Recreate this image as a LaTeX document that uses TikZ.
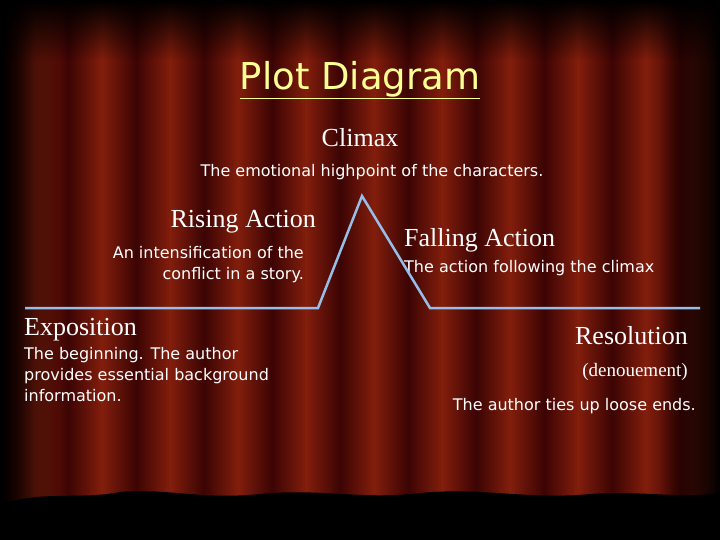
\documentclass[tikz,border=0pt]{standalone}
\usepackage{fontspec}
\setmainfont{Liberation Serif}
\newfontfamily\comic{DejaVu Sans}
\usetikzlibrary{fadings}
\definecolor{cdark}{RGB}{60,4,4}
\definecolor{cred}{RGB}{130,30,12}
\definecolor{lineblue}{RGB}{150,190,235}
\definecolor{titley}{RGB}{255,255,150}
\tikzset{
 comictxt/.style={text=white,font=\comic\fontsize{16}{21}\selectfont,inner sep=0pt},
 sertxt/.style={text=white,font=\fontsize{26}{30}\selectfont,inner sep=0pt},
 plotline/.style={lineblue,line width=2.5pt,line join=miter}
}
\begin{document}
\begin{tikzpicture}[x=1pt,y=-1pt]
\useasboundingbox (0,0) rectangle (720,540);
\fill[cdark] (0,0) rectangle (720,540);
\foreach \i in {0,...,10}{
  \shade[left color=cdark,right color=cdark,middle color=cred] (\i*68,0) rectangle (\i*68+68,540);
}
\fill[black,path fading=east] (0,0) rectangle (60,540);
\fill[black,path fading=west] (660,0) rectangle (720,540);
\fill[black,path fading=south] (0,0) rectangle (720,60);
\fill[black] (0,540) -- (0,505) .. controls (40,490) and (80,500) .. (120,492)
  .. controls (170,488) and (200,500) .. (260,494) .. controls (320,488) and (360,500) .. (420,493)
  .. controls (480,487) and (530,500) .. (590,494) .. controls (640,490) and (690,500) .. (720,492) -- (720,540) -- cycle;
\node[inner sep=0pt,text=titley,font=\comic\fontsize{37}{42}\selectfont] (title) at (360,80) {\underline{Plot Diagram}};
\node[sertxt] (climax) at (360,138) {Climax};
\node[comictxt] (climaxd) at (372,172) {The emotional highpoint of the characters.};
\node[sertxt,anchor=east] (rising) at (316,222) {Rising Action};
\node[comictxt,anchor=north east,align=right] (risingd) at (304,246) {An intensification of the\\conflict in a story.};
\node[sertxt,anchor=west] (falling) at (404,240) {Falling Action};
\node[comictxt,anchor=west] (fallingd) at (404,268) {The action following the climax};
\node[sertxt,anchor=west] (expo) at (24,330) {Exposition};
\node[comictxt,anchor=north west,align=left] (expod) at (24,347) {The beginning. The author\\provides essential background\\information.};
\node[sertxt,anchor=east] (reso) at (688,336) {Resolution};
\node[comictxt,anchor=east,font=\fontsize{19}{22}\selectfont] (denou) at (688,372) {(denouement)};
\node[comictxt,anchor=east] (resod) at (696,406) {The author ties up loose ends.};
\coordinate (a) at (25,308);
\coordinate (b) at (318,308);
\coordinate (c) at (362,196);
\coordinate (d) at (430,308);
\coordinate (e) at (700,308);
\draw[plotline] (a) -- (b) -- (c) -- (d) -- (e);
\end{tikzpicture}
\end{document}
